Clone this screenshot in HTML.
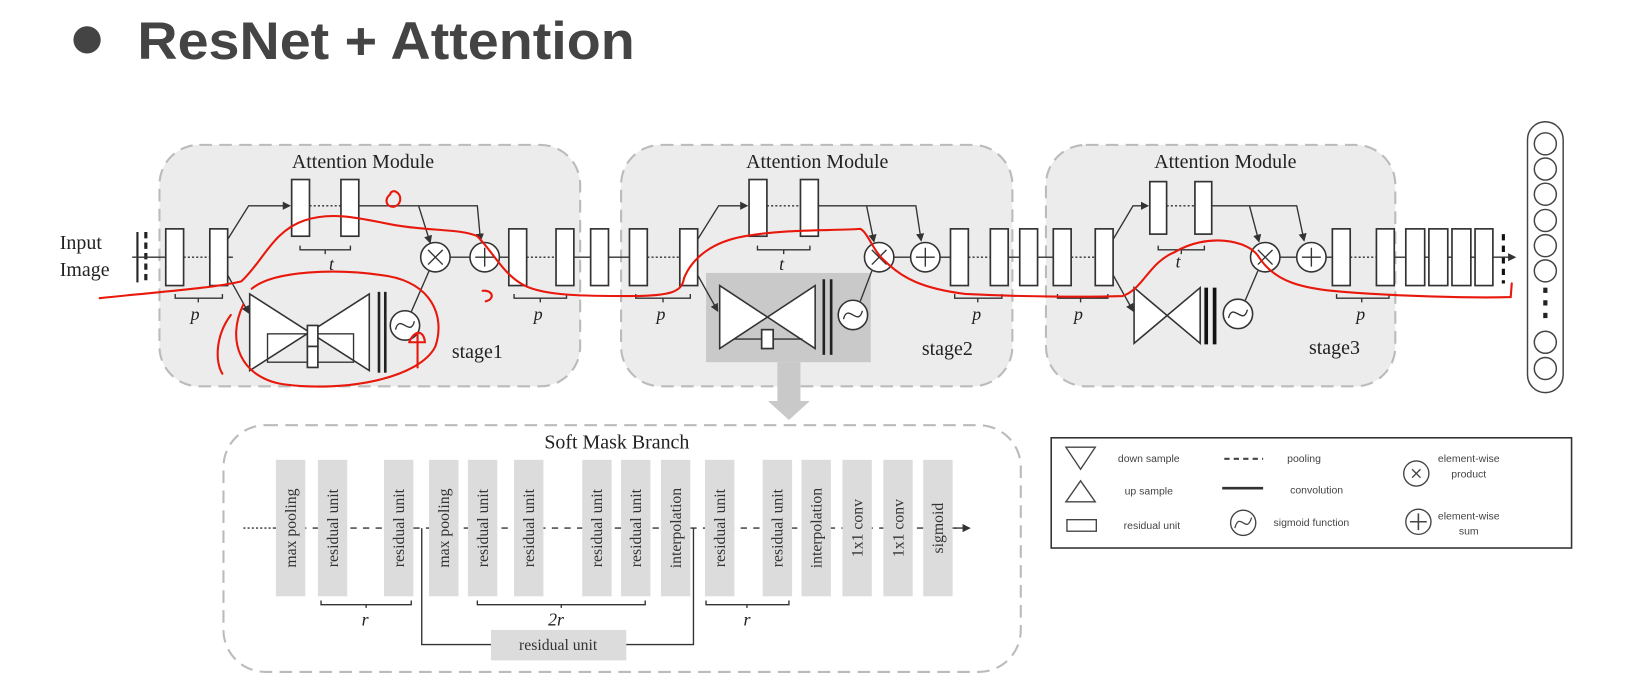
<!DOCTYPE html>
<html><head><meta charset="utf-8"><style>
html,body{margin:0;padding:0;background:#fff;}
svg{display:block;}
.s{font-family:"Liberation Serif",serif;fill:#222;}
.l{font-family:"Liberation Sans",sans-serif;fill:#444;font-size:10px;text-anchor:middle;}
.r{fill:#fff;stroke:#333;stroke-width:1.6;}
.ln{stroke:#333;stroke-width:1.3;fill:none;}
.dt{stroke:#333;stroke-width:1.3;stroke-dasharray:2 2;fill:none;}
.mod{fill:#ececec;stroke:#bbb;stroke-width:2;stroke-dasharray:12 7;}
.sm{fill:#dcdcdc;}
.sl{font-family:"Liberation Serif",serif;font-size:15px;fill:#333;text-anchor:middle;}
.red{stroke:#e8180c;stroke-width:2;fill:none;stroke-linecap:round;}
</style></head><body>
<svg width="1645" height="695" viewBox="0 0 1568 662" preserveAspectRatio="none" xmlns="http://www.w3.org/2000/svg">
<defs><marker id="a" markerWidth="6" markerHeight="6" refX="5" refY="3" orient="auto"><path d="M0,0 L6,3 L0,6z" fill="#333"/></marker></defs>
<!-- title -->
<circle cx="83" cy="38" r="13" fill="#444"/>
<text x="131" y="56" font-family="Liberation Sans,sans-serif" font-weight="bold" font-size="50" fill="#444" textLength="474" lengthAdjust="spacingAndGlyphs">ResNet + Attention</text>

<!-- modules -->
<rect class="mod" x="152" y="138" width="401" height="230" rx="38"/>
<rect class="mod" x="592" y="138" width="373" height="230" rx="38"/>
<rect class="mod" x="997" y="138" width="333" height="230" rx="38"/>
<text class="s" x="346" y="160" font-size="19" text-anchor="middle">Attention Module</text>
<text class="s" x="779" y="160" font-size="19" text-anchor="middle">Attention Module</text>
<text class="s" x="1168" y="160" font-size="19" text-anchor="middle">Attention Module</text>

<!-- input -->
<text class="s" x="57" y="237" font-size="19">Input</text>
<text class="s" x="57" y="263" font-size="19">Image</text>
<line x1="131" y1="221" x2="131" y2="269" stroke="#222" stroke-width="2"/>
<line x1="139" y1="221" x2="139" y2="269" stroke="#222" stroke-width="3" stroke-dasharray="6 4"/>

<!-- main line -->
<line class="ln" x1="126" y1="245" x2="158" y2="245"/>
<line class="dt" x1="175" y1="245" x2="200" y2="245"/>
<line class="ln" x1="217" y1="245" x2="222" y2="245"/>
<rect class="r" x="158" y="218" width="17" height="54"/>
<rect class="r" x="200" y="218" width="17" height="54"/>
<path class="ln" d="M217,228 L237,196 L276,196" marker-end="url(#a)"/>
<path class="ln" d="M217,262 L237,298" marker-end="url(#a)"/>
<rect class="r" x="278" y="171" width="17" height="54"/>
<rect class="r" x="325" y="171" width="17" height="54"/>
<line class="dt" x1="295" y1="196" x2="325" y2="196"/>
<path class="ln" d="M342,196 L455,196 L458,229" marker-end="url(#a)"/>
<path class="ln" d="M399,196 L410,231" marker-end="url(#a)"/>
<path class="ln" d="M286,234 L286,238 L334,238 L334,234 M310,238 L310,242"/>
<text class="s" x="316" y="257" font-size="17" font-style="italic" text-anchor="middle">t</text>
<path class="ln" d="M167,280 L167,284 L212,284 L212,280 M189,284 L189,288"/>
<text class="s" x="186" y="305" font-size="17" font-style="italic" text-anchor="middle">p</text>
<!-- hourglass 1 -->
<path d="M238,280 L352,353 L352,280 L238,353Z" fill="#fff" stroke="#333" stroke-width="1.5"/>
<rect x="255" y="318" width="82" height="27" fill="none" stroke="#333" stroke-width="1.3"/>
<rect class="r" x="293" y="310" width="10" height="20"/>
<rect class="r" x="293" y="330" width="10" height="20"/>
<rect x="360" y="278" width="2.5" height="77" fill="#222"/>
<rect x="366" y="278" width="2.5" height="77" fill="#222"/>
<circle cx="386" cy="310" r="14" fill="#fff" stroke="#333" stroke-width="1.5"/>
<path class="ln" d="M377,314 C381,298 391,322 395,306"/>
<line class="ln" x1="392" y1="297" x2="409" y2="258"/>
<circle cx="415" cy="245" r="14" fill="#fff" stroke="#333" stroke-width="1.5"/>
<path class="ln" d="M408,238 L422,252 M422,238 L408,252"/>
<line class="ln" x1="429" y1="245" x2="448" y2="245"/>
<circle cx="462" cy="245" r="14" fill="#fff" stroke="#333" stroke-width="1.5"/>
<path class="ln" d="M462,236 L462,254 M453,245 L471,245"/>
<text class="s" x="455" y="341" font-size="19" text-anchor="middle">stage1</text>

<!-- between -->
<line class="ln" x1="476" y1="245" x2="485" y2="245"/>
<rect class="r" x="485" y="218" width="17" height="54"/>
<line class="dt" x1="502" y1="245" x2="530" y2="245"/>
<rect class="r" x="530" y="218" width="17" height="54"/>
<line class="ln" x1="547" y1="245" x2="563" y2="245"/>
<rect class="r" x="563" y="218" width="17" height="54"/>
<line class="ln" x1="580" y1="245" x2="600" y2="245"/>
<rect class="r" x="600" y="218" width="17" height="54"/>
<line class="dt" x1="617" y1="245" x2="648" y2="245"/>
<rect class="r" x="648" y="218" width="17" height="54"/>
<path class="ln" d="M490,280 L490,284 L540,284 L540,280 M515,284 L515,288"/>
<text class="s" x="513" y="305" font-size="17" font-style="italic" text-anchor="middle">p</text>
<path class="ln" d="M606,280 L606,284 L658,284 L658,280 M632,284 L632,288"/>
<text class="s" x="630" y="305" font-size="17" font-style="italic" text-anchor="middle">p</text>

<!-- module 2 -->
<rect x="673" y="260" width="157" height="85" fill="#c9c9c9"/>
<path d="M741,345 L741,382 L732,382 L752,400 L772,382 L763,382 L763,345Z" fill="#c9c9c9"/>
<path class="ln" d="M665,228 L685,196 L712,196" marker-end="url(#a)"/>
<path class="ln" d="M665,262 L684,296" marker-end="url(#a)"/>
<rect class="r" x="714" y="171" width="17" height="54"/>
<rect class="r" x="763" y="171" width="17" height="54"/>
<line class="dt" x1="731" y1="196" x2="763" y2="196"/>
<path class="ln" d="M780,196 L873,196 L878,229" marker-end="url(#a)"/>
<path class="ln" d="M826,196 L833,230" marker-end="url(#a)"/>
<path class="ln" d="M722,234 L722,238 L772,238 L772,234 M747,238 L747,242"/>
<text class="s" x="745" y="257" font-size="17" font-style="italic" text-anchor="middle">t</text>
<path d="M686,272 L777,332 L777,272 L686,332Z" fill="#fff" stroke="#333" stroke-width="1.5"/>
<line class="ln" x1="700" y1="323" x2="765" y2="323"/>
<rect class="r" x="726" y="314" width="11" height="18"/>
<rect x="784" y="266" width="2.5" height="72" fill="#222"/>
<rect x="791" y="266" width="2.5" height="72" fill="#222"/>
<circle cx="813" cy="300" r="14" fill="#fff" stroke="#333" stroke-width="1.5"/>
<path class="ln" d="M804,304 C808,288 818,312 822,296"/>
<line class="ln" x1="820" y1="287" x2="831" y2="258"/>
<circle cx="838" cy="245" r="14" fill="#fff" stroke="#333" stroke-width="1.5"/>
<path class="ln" d="M831,238 L845,252 M845,238 L831,252"/>
<line class="ln" x1="852" y1="245" x2="868" y2="245"/>
<circle cx="882" cy="245" r="14" fill="#fff" stroke="#333" stroke-width="1.5"/>
<path class="ln" d="M882,236 L882,254 M873,245 L891,245"/>
<text class="s" x="903" y="338" font-size="19" text-anchor="middle">stage2</text>

<line class="ln" x1="896" y1="245" x2="906" y2="245"/>
<rect class="r" x="906" y="218" width="17" height="54"/>
<line class="dt" x1="923" y1="245" x2="944" y2="245"/>
<rect class="r" x="944" y="218" width="17" height="54"/>
<line class="ln" x1="961" y1="245" x2="972" y2="245"/>
<rect class="r" x="972" y="218" width="17" height="54"/>
<line class="ln" x1="989" y1="245" x2="1004" y2="245"/>
<rect class="r" x="1004" y="218" width="17" height="54"/>
<line class="dt" x1="1021" y1="245" x2="1044" y2="245"/>
<rect class="r" x="1044" y="218" width="17" height="54"/>
<path class="ln" d="M910,280 L910,284 L955,284 L955,280 M932,284 L932,288"/>
<text class="s" x="931" y="305" font-size="17" font-style="italic" text-anchor="middle">p</text>
<path class="ln" d="M1008,280 L1008,284 L1056,284 L1056,280 M1030,284 L1030,288"/>
<text class="s" x="1028" y="305" font-size="17" font-style="italic" text-anchor="middle">p</text>

<!-- module 3 -->
<path class="ln" d="M1061,228 L1080,196 L1094,196" marker-end="url(#a)"/>
<path class="ln" d="M1061,262 L1080,296" marker-end="url(#a)"/>
<rect class="r" x="1096" y="173" width="16" height="50"/>
<rect class="r" x="1139" y="173" width="16" height="50"/>
<line class="dt" x1="1112" y1="196" x2="1139" y2="196"/>
<path class="ln" d="M1155,196 L1236,196 L1243,229" marker-end="url(#a)"/>
<path class="ln" d="M1191,196 L1200,230" marker-end="url(#a)"/>
<path class="ln" d="M1104,234 L1104,238 L1148,238 L1148,234 M1126,238 L1126,242"/>
<text class="s" x="1123" y="255" font-size="17" font-style="italic" text-anchor="middle">t</text>
<path d="M1081,274 L1144,327 L1144,274 L1081,327Z" fill="#fff" stroke="#333" stroke-width="1.5"/>
<rect x="1148" y="274" width="3.5" height="54" fill="#111"/>
<rect x="1156" y="274" width="3.5" height="54" fill="#111"/>
<circle cx="1180" cy="299" r="14" fill="#fff" stroke="#333" stroke-width="1.5"/>
<path class="ln" d="M1171,303 C1175,287 1185,311 1189,295"/>
<line class="ln" x1="1187" y1="286" x2="1199" y2="258"/>
<circle cx="1206" cy="245" r="14" fill="#fff" stroke="#333" stroke-width="1.5"/>
<path class="ln" d="M1199,238 L1213,252 M1213,238 L1199,252"/>
<line class="ln" x1="1220" y1="245" x2="1236" y2="245"/>
<circle cx="1250" cy="245" r="14" fill="#fff" stroke="#333" stroke-width="1.5"/>
<path class="ln" d="M1250,236 L1250,254 M1241,245 L1259,245"/>
<text class="s" x="1272" y="337" font-size="19" text-anchor="middle">stage3</text>

<line class="ln" x1="1264" y1="245" x2="1270" y2="245"/>
<rect class="r" x="1270" y="218" width="17" height="54"/>
<line class="dt" x1="1287" y1="245" x2="1312" y2="245"/>
<rect class="r" x="1312" y="218" width="17" height="54"/>
<line class="ln" x1="1329" y1="245" x2="1340" y2="245"/>
<rect class="r" x="1340" y="218" width="18" height="54"/>
<rect class="r" x="1362" y="218" width="18" height="54"/>
<rect class="r" x="1384" y="218" width="18" height="54"/>
<rect class="r" x="1406" y="218" width="17" height="54"/>
<path class="ln" d="M1358,245 L1362,245 M1380,245 L1384,245 M1402,245 L1406,245"/>
<line x1="1433" y1="223" x2="1433" y2="270" stroke="#111" stroke-width="3" stroke-dasharray="6 5"/>
<line class="ln" x1="1423" y1="245" x2="1444" y2="245" marker-end="url(#a)"/>
<path class="ln" d="M1274,280 L1274,284 L1324,284 L1324,280 M1298,284 L1298,288"/>
<text class="s" x="1297" y="305" font-size="17" font-style="italic" text-anchor="middle">p</text>

<!-- output column -->
<rect x="1456" y="116" width="34" height="258" rx="17" fill="#fff" stroke="#444" stroke-width="1.4"/>
<g fill="#fff" stroke="#444" stroke-width="1.4">
<circle cx="1473" cy="137" r="10.5"/><circle cx="1473" cy="161" r="10.5"/><circle cx="1473" cy="185" r="10.5"/>
<circle cx="1473" cy="210" r="10.5"/><circle cx="1473" cy="234" r="10.5"/><circle cx="1473" cy="258" r="10.5"/>
<circle cx="1473" cy="326" r="10.5"/><circle cx="1473" cy="351" r="10.5"/></g>
<rect x="1471" y="274" width="4" height="5" fill="#222"/><rect x="1471" y="286" width="4" height="5" fill="#222"/><rect x="1471" y="298" width="4" height="5" fill="#222"/>

<!-- soft mask branch -->
<rect x="213" y="405" width="760" height="235" rx="40" fill="#fff" stroke="#bbb" stroke-width="2" stroke-dasharray="12 7"/>
<text class="s" x="588" y="427" font-size="19" text-anchor="middle">Soft Mask Branch</text>
<line class="dt" x1="232" y1="503" x2="262" y2="503" stroke-dasharray="6 4"/>
<line class="ln" x1="262" y1="503" x2="912" y2="503" stroke-dasharray="6 6"/>
<line class="ln" x1="905" y1="503" x2="924" y2="503" marker-end="url(#a)"/>
<g class="sm">
<rect x="263" y="438" width="28" height="130"/><rect x="303" y="438" width="28" height="130"/><rect x="366" y="438" width="28" height="130"/>
<rect x="409" y="438" width="28" height="130"/><rect x="446" y="438" width="28" height="130"/><rect x="490" y="438" width="28" height="130"/>
<rect x="555" y="438" width="28" height="130"/><rect x="592" y="438" width="28" height="130"/><rect x="630" y="438" width="28" height="130"/>
<rect x="672" y="438" width="28" height="130"/><rect x="727" y="438" width="28" height="130"/><rect x="764" y="438" width="28" height="130"/>
<rect x="803" y="438" width="28" height="130"/><rect x="842" y="438" width="28" height="130"/><rect x="880" y="438" width="28" height="130"/>
<rect x="468" y="600" width="129" height="29"/>
</g>
<g class="sl">
<text transform="translate(282,503) rotate(-90)">max pooling</text>
<text transform="translate(322,503) rotate(-90)">residual unit</text>
<text transform="translate(385,503) rotate(-90)">residual unit</text>
<text transform="translate(428,503) rotate(-90)">max pooling</text>
<text transform="translate(465,503) rotate(-90)">residual unit</text>
<text transform="translate(509,503) rotate(-90)">residual unit</text>
<text transform="translate(574,503) rotate(-90)">residual unit</text>
<text transform="translate(611,503) rotate(-90)">residual unit</text>
<text transform="translate(649,503) rotate(-90)">interpolation</text>
<text transform="translate(691,503) rotate(-90)">residual unit</text>
<text transform="translate(746,503) rotate(-90)">residual unit</text>
<text transform="translate(783,503) rotate(-90)">interpolation</text>
<text transform="translate(822,503) rotate(-90)">1x1 conv</text>
<text transform="translate(861,503) rotate(-90)">1x1 conv</text>
<text transform="translate(899,503) rotate(-90)">sigmoid</text>
<text x="532" y="619">residual unit</text>
</g>
<path class="ln" d="M402,503 L402,614 L468,614 M597,614 L661,614 L661,503"/>
<path class="ln" d="M306,572 L306,576 L392,576 L392,572 M349,576 L349,579"/>
<text class="s" x="348" y="596" font-size="17" font-style="italic" text-anchor="middle">r</text>
<path class="ln" d="M455,572 L455,576 L615,576 L615,572 M535,576 L535,579"/>
<text class="s" x="530" y="596" font-size="17" font-style="italic" text-anchor="middle">2r</text>
<path class="ln" d="M673,572 L673,576 L752,576 L752,572 M712,576 L712,579"/>
<text class="s" x="712" y="596" font-size="17" font-style="italic" text-anchor="middle">r</text>

<!-- legend -->
<rect x="1002" y="417" width="496" height="105" fill="#fff" stroke="#333" stroke-width="1.5"/>
<path d="M1016,426 L1044,426 L1030,447Z" fill="none" stroke="#444" stroke-width="1.3"/>
<path d="M1016,478 L1044,478 L1030,458Z" fill="none" stroke="#444" stroke-width="1.3"/>
<rect x="1017" y="495" width="28" height="11" fill="none" stroke="#444" stroke-width="1.3"/>
<text class="l" x="1095" y="440">down sample</text>
<text class="l" x="1095" y="471">up sample</text>
<text class="l" x="1098" y="504">residual unit</text>
<line x1="1167" y1="437" x2="1204" y2="437" stroke="#444" stroke-width="2" stroke-dasharray="5 4"/>
<line x1="1165" y1="465" x2="1204" y2="465" stroke="#333" stroke-width="2.5"/>
<circle cx="1185" cy="498" r="12" fill="none" stroke="#444" stroke-width="1.3"/>
<path d="M1177,503 C1182,486 1188,510 1193,493" fill="none" stroke="#444" stroke-width="1.2"/>
<text class="l" x="1243" y="440">pooling</text>
<text class="l" x="1255" y="470">convolution</text>
<text class="l" x="1250" y="501">sigmoid function</text>
<circle cx="1350" cy="451" r="12" fill="none" stroke="#444" stroke-width="1.3"/>
<path d="M1346,447 L1354,455 M1354,447 L1346,455" stroke="#444" stroke-width="1.3"/>
<circle cx="1352" cy="497" r="12" fill="none" stroke="#444" stroke-width="1.3"/>
<path d="M1352,489 L1352,505 M1344,497 L1360,497" stroke="#444" stroke-width="1.5"/>
<text class="l" x="1400" y="440">element-wise</text>
<text class="l" x="1400" y="455">product</text>
<text class="l" x="1400" y="495">element-wise</text>
<text class="l" x="1400" y="509">sum</text>

<!-- red annotations -->
<path class="red" d="M95,284 C150,278 200,275 230,268 C250,250 260,220 290,210 C320,200 350,210 380,215 C410,220 440,218 455,225 C470,240 480,262 500,272 C520,282 560,282 600,282 C640,282 650,278 652,265 C660,245 680,230 710,225 C750,218 790,220 820,218 C828,222 832,240 845,250 C860,265 880,275 920,280 C980,283 1040,283 1070,282 C1090,275 1095,250 1120,240 C1150,222 1190,228 1200,245 C1215,268 1240,275 1280,278 C1330,282 1400,284 1440,283 L1441,270"/>
<path class="red" d="M220,300 C205,320 205,345 212,356"/>
<path class="red" d="M232,290 C215,325 230,360 270,366 C330,374 400,360 415,330 C425,300 410,270 370,263 C320,255 260,258 240,275"/>
<path class="red" d="M372,185 C366,190 368,197 375,197 C382,196 384,187 378,183 C375,181 372,183 372,185"/>
<path class="red" d="M460,277 C470,276 472,285 463,287"/>
<path class="red" d="M398,350 L398,318 M390,326 C395,314 404,314 405,326 L391,326"/>
</svg>
</body></html>
